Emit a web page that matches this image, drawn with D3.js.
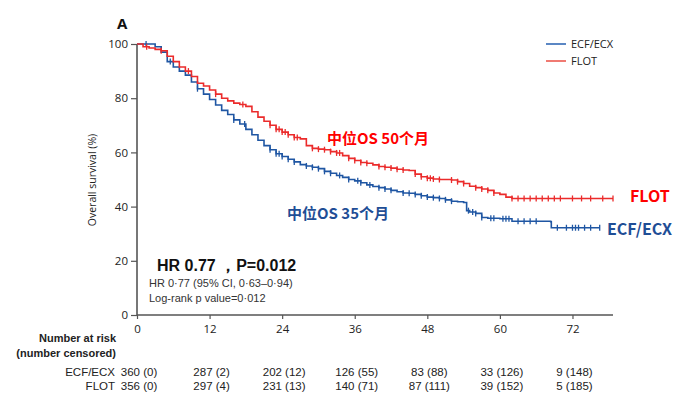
<!DOCTYPE html>
<html><head><meta charset="utf-8">
<script src="https://cdn.jsdelivr.net/npm/d3@7"></script>
<style>
body{margin:0;background:#fff;}
svg{display:block;font-family:"Open Sans","Liberation Sans",sans-serif;}
</style></head><body>
<svg id="c" width="682" height="400"></svg>
<script>
// ---- data ----
const ecfTimes = [0,1,2,3,4,5,6,7,8,9,10,11,12,13,14,15,16,17,18,19,20,21,22,23,24,25,26,27,28,29,30,31,32,33,34,35,36,37,38,39,40,41,42,43,44,45,46,47,48,49,50,51,52,53,54,54.5,55,56,57,58,60,62,68.4,68.5,76.5];
const ecfSurv  = [100,100,100,99,97,93.5,91.5,90,88.5,86,83.5,81.5,79.5,77.5,75.5,74,72,70.5,68.5,66.5,64.5,62.5,61,59.5,58.5,57.5,56.5,55.5,55,54.5,54,53,52.3,51.5,50.8,50,49.5,48.8,48,47.4,47,46.5,46,45.5,45,44.9,44.5,44,43.5,43.3,43,42.5,42,41.8,41.5,38.5,38,37.5,36,35.7,35.5,34.6,34.4,32.2,32.2];
const flotTimes = [0,1,2,3,4,5,6,7,8,9,10,11,12,13,14,15,16,17,18,19,20,21,22,23,24,25,26,27,28,29,30,31,32,33,34,35,36,37,38,39,40,41,42,43,44,45,46,47,48,49,50,51,52,53,54,55,56,57,58,59,60,61,62,78.7];
const flotSurv  = [100,99,98.5,98,97.5,95.5,93.5,91.5,90,88,85.5,84.5,83,81.5,80,79,78.2,77.7,77,75,73,71.5,70,68.5,67.5,66.5,65.5,65,62.5,61.5,61.2,61,60.3,59.8,58.8,57.8,57,56.3,56,55.4,54.8,54.5,54.2,53.8,53.5,53.3,52,51,50.5,50.2,50,50,49.8,49.2,48.5,47.5,47,46.5,46,45,44.5,43.5,43,43];
const ecfCensor = [1.5,5.5,10,16,17.8,22,23,23.5,24,25,26,28,29,30,31,32,33.5,35,36.5,37,38.5,40,41,42,44,45,46,47,48,49,50,51,52,54.8,55.5,56,57,58.5,59,60.5,61,61.5,63,64,65,66,69.5,71,72,72.5,73,74,75,76.5];
const flotCensor = [1.6,4,8.5,13,17.5,22,23,23.5,24,24.5,25,26,26.5,29,30,31,32,33,33.5,35,36,37,38,40,41,42,43,44,46,47,48,48.5,49,50,52,53,54,56,57,58,59,62,63,64,65,66,67,68,69,70,72,73.5,75,77,78.7];
const xTicks = [0,12,24,36,48,60,72];
const yTicks = [0,20,40,60,80,100];
const riskEcf  = ["360 (0)","287 (2)","202 (12)","126 (55)","83 (88)","33 (126)","9 (148)"];
const riskFlot = ["356 (0)","297 (4)","231 (13)","140 (71)","87 (111)","39 (152)","5 (185)"];

const blue = "#1f56a3", red = "#eb2b2b";
const LS = "'Liberation Sans',Arial,sans-serif";
const svg = d3.select("#c");
const x = d3.scaleLinear().domain([0,78.7]).range([137,613]);
const y = d3.scaleLinear().domain([0,100]).range([315,44]);

// axes
const yAx = svg.append("g").attr("transform","translate(137,0)")
  .call(d3.axisLeft(y).tickValues(yTicks).tickSize(6).tickPadding(3));
const xAx = svg.append("g").attr("transform","translate(0,315)")
  .call(d3.axisBottom(x).tickValues(xTicks).tickSize(4).tickPadding(6));
[yAx,xAx].forEach(g=>{
  g.select(".domain").attr("stroke","#555").attr("stroke-width",1.6);
  g.selectAll(".tick line").attr("stroke","#555").attr("stroke-width",1.2);
  g.selectAll(".tick text").attr("fill","#222").style("font-size","11.5px").style("font-family","'Open Sans',sans-serif");
});
yAx.select(".domain").attr("d","M0,44V315");
xAx.select(".domain").attr("d","M137,0H613");

svg.append("text").attr("transform","translate(96,180) rotate(-90)")
  .attr("text-anchor","middle").attr("fill","#222").style("font-size","10.5px").text("Overall survival (%)");
svg.append("text").attr("x",117).attr("y",29).attr("fill","#111")
  .style("font-size","15px").style("font-weight","bold").text("A");

// curves
const line = d3.line().curve(d3.curveStepAfter).x(d=>x(d[0])).y(d=>y(d[1]));
function stepAt(ts, ss, t){ let v=ss[0]; for(let i=0;i<ts.length;i++){ if(ts[i]<=t) v=ss[i]; } return v; }
function drawSeries(ts, ss, cens, col){
  svg.append("path").datum(ts.map((t,i)=>[t,ss[i]])).attr("d",line)
    .attr("fill","none").attr("stroke",col).attr("stroke-width",1.6);
  svg.append("g").selectAll("line").data(cens).join("line")
    .attr("x1",d=>x(d)).attr("x2",d=>x(d))
    .attr("y1",d=>y(stepAt(ts,ss,d))-3).attr("y2",d=>y(stepAt(ts,ss,d))+3)
    .attr("stroke",col).attr("stroke-width",1.3);
}
drawSeries(ecfTimes, ecfSurv, ecfCensor, blue);
drawSeries(flotTimes, flotSurv, flotCensor, red);

// legend
const leg = [["ECF/ECX","#5b87c4"],["FLOT","#f07a72"]];
leg.forEach((l,i)=>{
  svg.append("line").attr("x1",546).attr("x2",566).attr("y1",44+i*17).attr("y2",44+i*17)
    .attr("stroke",l[1]).attr("stroke-width",2);
  svg.append("text").attr("x",571).attr("y",48+i*17).attr("fill","#222")
    .style("font-size","11px").text(l[0]);
});

// annotations
svg.append("text").attr("x",327).attr("y",144).attr("fill","#ff0000")
  .style("font-family","'Noto Sans CJK SC',sans-serif").style("font-size","15px").style("font-weight","bold").text("中位OS 50个月");
svg.append("text").attr("x",287).attr("y",219).attr("fill","#1f4e96")
  .style("font-family","'Noto Sans CJK SC',sans-serif").style("font-size","15px").style("font-weight","bold").text("中位OS 35个月");
svg.append("text").attr("x",630).attr("y",202).attr("fill","#ff0000")
  .style("font-family","'Noto Sans CJK SC',sans-serif").style("font-size","16px").style("font-weight","bold").text("FLOT");
svg.append("text").attr("x",607).attr("y",235).attr("fill","#1f4e96")
  .style("font-family","'Noto Sans CJK SC',sans-serif").style("font-size","16px").style("font-weight","bold").text("ECF/ECX");
svg.append("text").attr("x",157).attr("y",271).attr("fill","#111")
  .style("font-family",LS).style("font-size","16px").style("font-weight","bold").text("HR 0.77 ，P=0.012");
svg.append("text").attr("x",149).attr("y",287).attr("fill","#333")
  .style("font-family",LS).style("font-size","11px").text("HR 0·77 (95% CI, 0·63–0·94)");
svg.append("text").attr("x",149).attr("y",302).attr("fill","#333")
  .style("font-family",LS).style("font-size","11px").text("Log-rank p value=0·012");

// risk table
svg.append("text").attr("x",116).attr("y",342).attr("text-anchor","end").attr("fill","#222")
  .style("font-family",LS).style("font-size","11px").style("font-weight","bold").text("Number at risk");
svg.append("text").attr("x",116).attr("y",357).attr("text-anchor","end").attr("fill","#222")
  .style("font-family",LS).style("font-size","11px").style("font-weight","bold").text("(number censored)");
[["ECF/ECX",riskEcf,376],["FLOT",riskFlot,390]].forEach(r=>{
  svg.append("text").attr("x",115).attr("y",r[2]).attr("text-anchor","end").attr("fill","#222")
    .style("font-family",LS).style("font-size","11.5px").text(r[0]);
  svg.append("g").selectAll("text").data(r[1]).join("text")
    .attr("x",(d,i)=>x(xTicks[i])+2).attr("y",r[2]).attr("text-anchor","middle").attr("fill","#222")
    .style("font-family",LS).style("font-size","11.5px").text(d=>d);
});
</script></body></html>
